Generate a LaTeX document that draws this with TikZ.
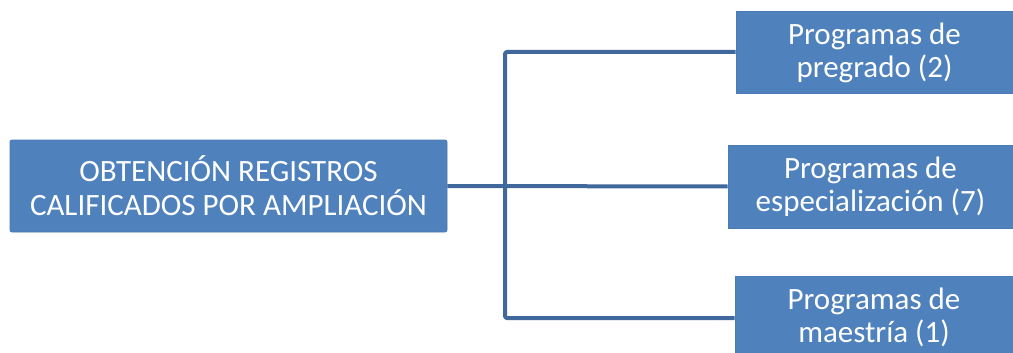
\documentclass[tikz,border=0pt]{standalone}
\usepackage{fontspec}
\setmainfont{Carlito}
\definecolor{boxblue}{HTML}{4F81BD}
\definecolor{boxedge}{HTML}{4A7BB7}
\definecolor{linkblue}{HTML}{41689C}
\begin{document}
\begin{tikzpicture}[x=1pt,y=-1pt,
  mainbox/.style={fill=boxblue,draw=boxedge,line width=0.8pt,rounded corners=2pt,text=white,align=center,inner sep=0pt,
    font=\fontsize{31}{34}\selectfont},
  subbox/.style={fill=boxblue,draw=boxedge,line width=0.8pt,text=white,align=center,inner sep=0pt,
    font=\fontsize{31}{33}\selectfont},
  link/.style={draw=linkblue,line width=4pt,line join=round,rounded corners=2pt}]
\useasboundingbox (0,0) rectangle (1013,353);
\node[mainbox,minimum width=437pt,minimum height=92pt] (m) at (228.5,186) {OBTENCIÓN REGISTROS\\CALIFICADOS POR AMPLIACIÓN};
\node[subbox,minimum width=277pt,minimum height=82pt] (b1) at (874.5,52.5) {Programas de\\pregrado (2)};
\node[subbox,minimum width=285pt,minimum height=83pt] (b2) at (870.5,186.5) {Programas de\\especialización (7)};
\node[subbox,minimum width=278pt,minimum height=83pt] (b3) at (874,317.5) {Programas de\\maestría (1)};
\coordinate (j) at (505,186);
\draw[link] (m.east) -- (b2.west);
\draw[link] (b1.west |- 0,52) -| (j) |- (b3.west |- 0,318);
\end{tikzpicture}
\end{document}
